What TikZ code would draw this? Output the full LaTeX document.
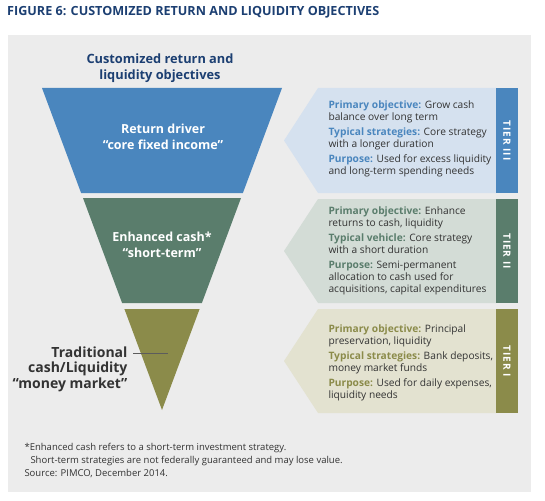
\documentclass[tikz,border=0pt]{standalone}
\usepackage{fontspec}
\setmainfont{Open Sans}
\usetikzlibrary{arrows}

\definecolor{bggray}{HTML}{ECECEC}
\definecolor{navy}{HTML}{1C3F72}
\definecolor{textgray}{HTML}{333333}
\definecolor{tierthree}{HTML}{4A86BE}
\definecolor{tiertwo}{HTML}{5A7D6C}
\definecolor{tierone}{HTML}{8B8B4A}
\definecolor{paneltree}{HTML}{D5E1EF}
\definecolor{paneltwo}{HTML}{D3DCD6}
\definecolor{panelone}{HTML}{E3E2D0}

\begin{document}
\begin{tikzpicture}[>=latex, x=1pt, y=-1pt, font=\small,
  bandtext/.style={text=white, align=center, font=\bfseries\fontsize{12.5}{16.5}\selectfont},
  paneltext/.style={anchor=west, align=left, text=textgray, font=\fontsize{10.2}{11.8}\selectfont},
  tiertext/.style={rotate=-90, text=white, font=\bfseries\fontsize{10}{10}\selectfont\addfontfeature{LetterSpace=10}},
  leader/.style={draw=textgray!80, line width=.6pt}]

\useasboundingbox (0,0) rectangle (545,500);
\fill[bggray] (8,35) rectangle (531,492);

\node[anchor=west, inner sep=0, text=navy, font=\bfseries\fontsize{12.6}{14}\selectfont] (title) at (7,12) {FIGURE 6: CUSTOMIZED RETURN AND LIQUIDITY OBJECTIVES};

\node[text=navy, align=center, font=\bfseries\fontsize{12.8}{15.5}\selectfont] (heading) at (160,68) {Customized return and\\liquidity objectives};

% inverted pyramid, cut into three bands
\fill[tierthree] (42,88) -- (282,88) -- (242.9,193) -- (81.1,193) -- cycle;
\fill[tiertwo] (83,198) -- (241,198) -- (201.9,303) -- (122.1,303) -- cycle;
\fill[tierone] (124.4,309) -- (199.6,309) -- (162,410) -- cycle;

\node[bandtext] (driver) at (163,137) {Return driver\\“core fixed income”};
\node[bandtext] (enhanced) at (162,245) {Enhanced cash*\\“short-term”};
\node[anchor=east, align=right, text=textgray, font=\bfseries\fontsize{14}{15.5}\selectfont] (trad) at (131,369) {Traditional\\cash/Liquidity\\“money market”};

\coordinate (lead) at (168,353);
\draw[leader] ([xshift=2pt]trad.east |- lead) -- (lead);

% tier panels
\fill[paneltree] (318,88) -- (496,88) -- (496,193) -- (318,193) -- (284,140.5) -- cycle;
\fill[tierthree] (496,88) rectangle (518,193);
\fill[paneltwo] (318,199) -- (496,199) -- (496,303) -- (318,303) -- (284,251) -- cycle;
\fill[tiertwo] (496,199) rectangle (518,303);
\fill[panelone] (318,309) -- (496,309) -- (496,413) -- (318,413) -- (284,361) -- cycle;
\fill[tierone] (496,309) rectangle (518,413);

\node[tiertext] (tier3) at (507,140.5) {TIER III};
\node[tiertext] (tier2) at (507,251) {TIER II};
\node[tiertext] (tier1) at (507,361) {TIER I};

\node[paneltext] (text3) at (325,139) {\textcolor{tierthree}{\bfseries Primary objective:} Grow cash\\balance over long term\\[3.5pt]
  \textcolor{tierthree}{\bfseries Typical strategies:} Core strategy\\with a longer duration\\[3.5pt]
  \textcolor{tierthree}{\bfseries Purpose:} Used for excess liquidity\\and long-term spending needs};
\node[paneltext] (text2) at (325,251) {\textcolor{tiertwo}{\bfseries Primary objective:} Enhance\\returns to cash, liquidity\\[3.5pt]
  \textcolor{tiertwo}{\bfseries Typical vehicle:} Core strategy\\with a short duration\\[3.5pt]
  \textcolor{tiertwo}{\bfseries Purpose:} Semi-permanent\\allocation to cash used for\\acquisitions, capital expenditures};
\node[paneltext] (text1) at (325,363) {\textcolor{tierone}{\bfseries Primary objective:} Principal\\preservation, liquidity\\[3.5pt]
  \textcolor{tierone}{\bfseries Typical strategies:} Bank deposits,\\money market funds\\[3.5pt]
  \textcolor{tierone}{\bfseries Purpose:} Used for daily expenses,\\liquidity needs};

\node[anchor=west, align=left, text=textgray, font=\fontsize{9.5}{13}\selectfont] (notes) at (21,460) {*Enhanced cash refers to a short-term investment strategy.\\
  \hspace*{6pt}Short-term strategies are not federally guaranteed and may lose value.\\
  Source: PIMCO, December 2014.};

\end{tikzpicture}
\end{document}
